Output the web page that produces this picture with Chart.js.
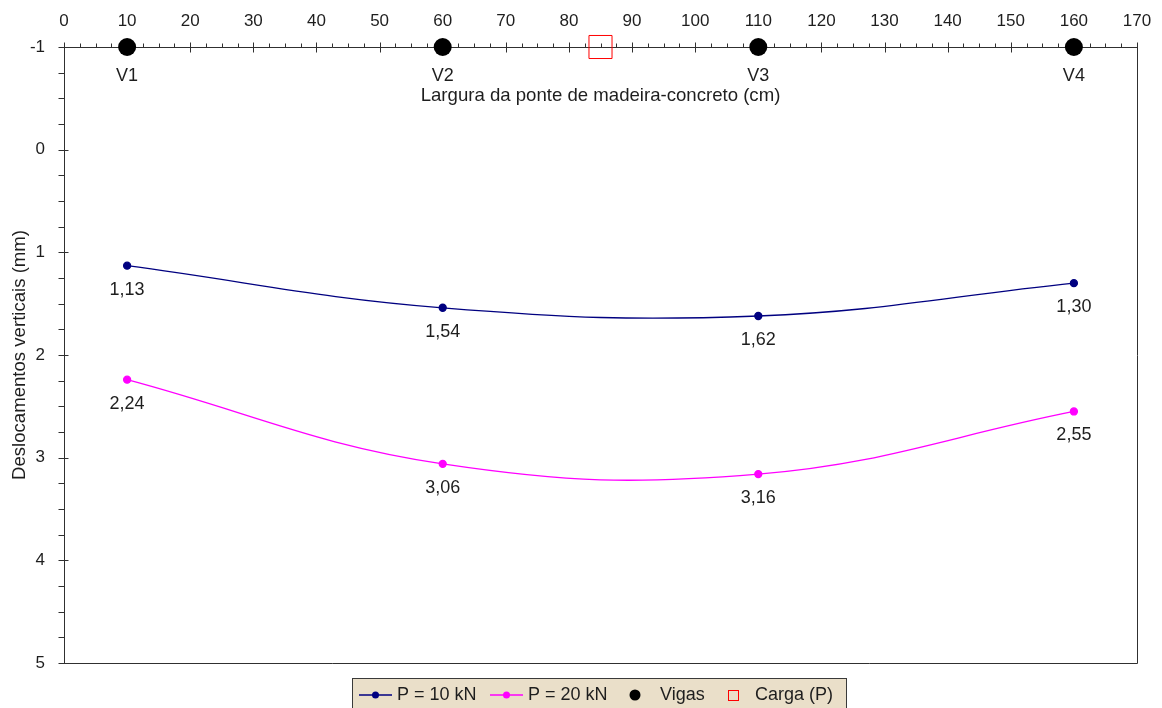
<!DOCTYPE html>
<html lang="pt">
<head>
<meta charset="utf-8">
<title>Deslocamentos verticais</title>
<script src="https://cdn.jsdelivr.net/npm/chart.js@4/dist/chart.umd.min.js"></script>
<style>
  html, body { margin: 0; padding: 0; background: #ffffff; }
  #wrap { width: 1162px; height: 708px; }
</style>
</head>
<body>
<div id="wrap"><canvas id="grafico" width="1162" height="708"></canvas></div>
<script>
// Posições transversais (cm) e deslocamentos verticais medidos (mm)
const larguras = [10, 60, 110, 160];
const desloc10kN = [1.13, 1.54, 1.62, 1.30];
const desloc20kN = [2.24, 3.06, 3.16, 2.55];

// Vigas e ponto de aplicação da carga
const vigasRotulos = ['V1', 'V2', 'V3', 'V4'];
const vigasX = [10, 60, 110, 160];
const vigasY = [-1, -1, -1, -1];
const cargaX = [85];
const cargaY = [-1];

// Eixos
const xTicks = [0, 10, 20, 30, 40, 50, 60, 70, 80, 90, 100, 110, 120, 130, 140, 150, 160, 170];
const yTicks = [-1, 0, 1, 2, 3, 4, 5];

const FONTE = '"Liberation Sans", Arial, sans-serif';
const COR_TEXTO = '#1e1e1e';
const COR_EIXO = '#303030';

const pares = (xs, ys) => xs.map((x, i) => ({ x: x, y: ys[i] }));
const fmt = v => v.toFixed(2).replace('.', ',');

// Moldura, marcas de divisão principais e secundárias, título do eixo X
const eixosPlugin = {
  id: 'eixos',
  beforeDatasetsDraw(chart) {
    const { ctx, chartArea: a, scales: { x, y } } = chart;
    ctx.save();
    ctx.strokeStyle = COR_EIXO;
    ctx.lineWidth = 1;
    ctx.beginPath();
    ctx.rect(Math.round(a.left) + 0.5, Math.round(a.top) + 0.5,
             Math.round(a.right - a.left), Math.round(a.bottom - a.top));
    ctx.stroke();

    const top = Math.round(a.top) + 0.5;
    const left = Math.round(a.left) + 0.5;
    ctx.beginPath();
    // eixo X (topo): principais a cada 10, secundárias a cada 2,5
    for (let v = x.min; v <= x.max + 1e-9; v += 2.5) {
      const px = Math.round(x.getPixelForValue(v)) + 0.5;
      const principal = Math.abs(v % 10) < 1e-9;
      ctx.moveTo(px, principal ? top - 5 : top - 4);
      ctx.lineTo(px, principal ? top + 5 : top);
    }
    // eixo Y (esquerda): principais a cada 1, secundárias a cada 0,25
    for (let v = y.min; v <= y.max + 1e-9; v += 0.25) {
      const py = Math.round(y.getPixelForValue(v)) + 0.5;
      const principal = Math.abs(v - Math.round(v)) < 1e-9;
      ctx.moveTo(left - 6, py);
      ctx.lineTo(principal ? left + 4 : left, py);
    }
    ctx.stroke();

    ctx.fillStyle = COR_TEXTO;
    ctx.font = '18.6px ' + FONTE;
    ctx.textAlign = 'center';
    ctx.textBaseline = 'middle';
    ctx.fillText('Largura da ponte de madeira-concreto (cm)', (a.left + a.right) / 2, a.top + 49);
    ctx.restore();
  },
  afterDatasetsDraw(chart) {
    const { ctx } = chart;
    ctx.save();
    ctx.fillStyle = COR_TEXTO;
    ctx.font = '18px ' + FONTE;
    ctx.textAlign = 'center';
    ctx.textBaseline = 'middle';
    // valores sob os pontos das duas séries
    [[0, desloc10kN], [1, desloc20kN]].forEach(([idx, valores]) => {
      chart.getDatasetMeta(idx).data.forEach((pt, i) => {
        ctx.fillText(fmt(valores[i]), pt.x, pt.y + 24);
      });
    });
    // nomes das vigas
    chart.getDatasetMeta(2).data.forEach((pt, i) => {
      ctx.fillText(vigasRotulos[i], pt.x, pt.y + 29);
    });
    ctx.restore();
  },
  afterDraw(chart) {
    // legenda inferior
    const { ctx } = chart;
    ctx.save();
    ctx.fillStyle = '#eadfc9';
    ctx.fillRect(352, 678, 495, 40);
    ctx.strokeStyle = '#3a3a3a';
    ctx.lineWidth = 1;
    ctx.strokeRect(352.5, 678.5, 494, 40);

    const ym = 695;
    ctx.font = '18px ' + FONTE;
    ctx.textAlign = 'left';
    ctx.textBaseline = 'middle';

    const serie = (x0, cor, texto) => {
      ctx.strokeStyle = cor;
      ctx.lineWidth = 1.3;
      ctx.beginPath();
      ctx.moveTo(x0, ym); ctx.lineTo(x0 + 33, ym);
      ctx.stroke();
      ctx.fillStyle = cor;
      ctx.beginPath();
      ctx.arc(x0 + 16.5, ym, 3.5, 0, Math.PI * 2);
      ctx.fill();
      ctx.fillStyle = COR_TEXTO;
      ctx.fillText(texto, x0 + 38, ym);
    };
    serie(359, '#000080', chart.data.datasets[0].label);
    serie(490, '#ff00ff', chart.data.datasets[1].label);

    ctx.fillStyle = '#000000';
    ctx.beginPath();
    ctx.arc(635, ym, 5.5, 0, Math.PI * 2);
    ctx.fill();
    ctx.fillStyle = COR_TEXTO;
    ctx.fillText(chart.data.datasets[2].label, 660, ym);

    ctx.strokeStyle = '#ff0000';
    ctx.lineWidth = 1;
    ctx.strokeRect(728.5, 690.5, 10, 10);
    ctx.fillStyle = COR_TEXTO;
    ctx.fillText(chart.data.datasets[3].label, 755, ym);
    ctx.restore();
  }
};

new Chart(document.getElementById('grafico'), {
  type: 'scatter',
  data: {
    datasets: [
      {
        label: 'P = 10 kN',
        data: pares(larguras, desloc10kN),
        showLine: true,
        borderColor: '#000080',
        backgroundColor: '#000080',
        borderWidth: 1.3,
        pointRadius: 3.5,
        tension: 0.4,
        clip: false
      },
      {
        label: 'P = 20 kN',
        data: pares(larguras, desloc20kN),
        showLine: true,
        borderColor: '#ff00ff',
        backgroundColor: '#ff00ff',
        borderWidth: 1.3,
        pointRadius: 3.5,
        tension: 0.4,
        clip: false
      },
      {
        label: 'Vigas',
        data: pares(vigasX, vigasY),
        showLine: false,
        borderColor: '#000000',
        backgroundColor: '#000000',
        pointRadius: 9,
        borderWidth: 0,
        clip: false
      },
      {
        label: 'Carga (P)',
        data: pares(cargaX, cargaY),
        showLine: false,
        pointStyle: 'rect',
        borderColor: '#ff0000',
        backgroundColor: 'rgba(255,255,255,0)',
        pointRadius: 16.3,
        borderWidth: 1,
        clip: false
      }
    ]
  },
  options: {
    responsive: false,
    animation: false,
    events: [],
    layout: { padding: { left: 0, top: 0, right: 25, bottom: 45 } },
    plugins: {
      legend: { display: false },
      tooltip: { enabled: false }
    },
    scales: {
      x: {
        type: 'linear',
        position: 'top',
        min: 0,
        max: 170,
        afterFit(s) { s.height = 47; s.paddingLeft = 0; s.paddingRight = 0; },
        afterBuildTicks(s) { s.ticks = xTicks.map(v => ({ value: v })); },
        grid: { display: false, drawTicks: false },
        border: { display: false },
        ticks: {
          padding: 15,
          color: COR_TEXTO,
          font: { family: FONTE, size: 17 },
          maxRotation: 0,
          autoSkip: false
        }
      },
      y: {
        type: 'linear',
        position: 'left',
        reverse: true,
        min: -1,
        max: 5,
        afterFit(s) { s.width = 64; s.paddingTop = 0; s.paddingBottom = 0; },
        afterBuildTicks(s) { s.ticks = yTicks.map(v => ({ value: v })); },
        grid: { display: false, drawTicks: false },
        border: { display: false },
        ticks: {
          padding: 19,
          color: COR_TEXTO,
          font: { family: FONTE, size: 17 },
          autoSkip: false
        },
        title: {
          display: true,
          text: 'Deslocamentos verticais (mm)',
          color: COR_TEXTO,
          font: { family: FONTE, size: 18.6 },
          padding: { top: 9, bottom: 0 }
        }
      }
    }
  },
  plugins: [eixosPlugin]
});
</script>
</body>
</html>
